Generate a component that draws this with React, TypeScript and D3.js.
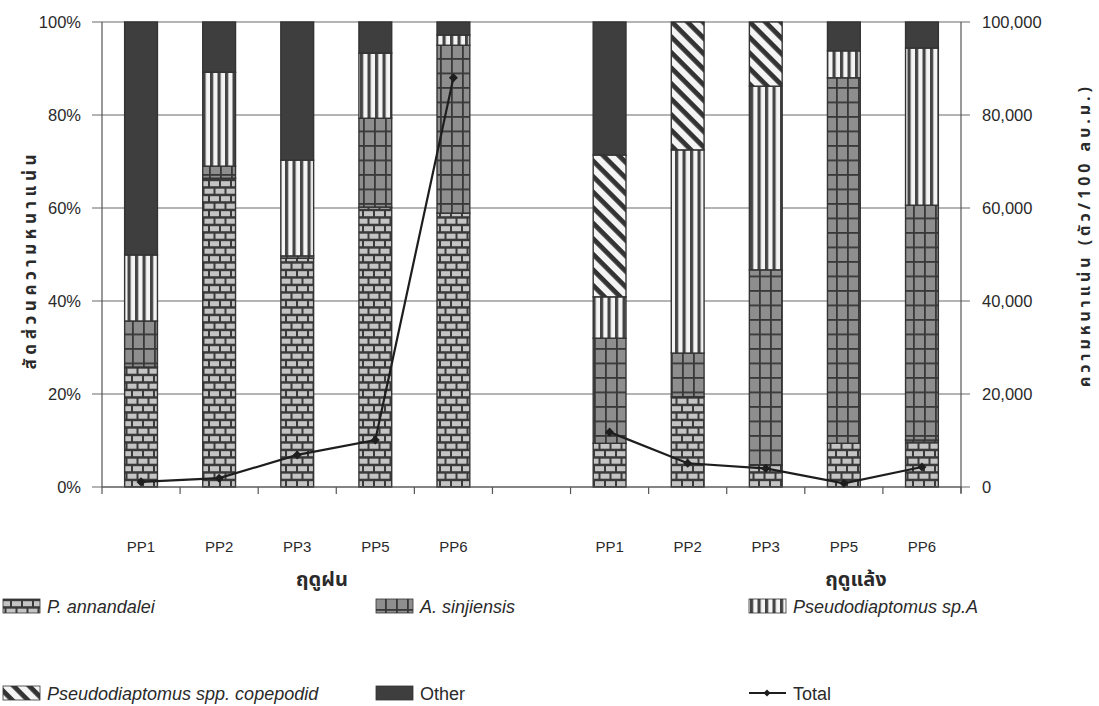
import React from "react";
import * as d3 from "d3";

// ---- data ----
const sites = ["PP1", "PP2", "PP3", "PP5", "PP6"];
const seasons = ["ฤดูฝน", "ฤดูแล้ง"];
const slotKeys = ["R-PP1", "R-PP2", "R-PP3", "R-PP5", "R-PP6", "gap", "D-PP1", "D-PP2", "D-PP3", "D-PP5", "D-PP6"];
const barKeys = ["R-PP1", "R-PP2", "R-PP3", "R-PP5", "R-PP6", "D-PP1", "D-PP2", "D-PP3", "D-PP5", "D-PP6"];

// percent composition, rainy PP1..PP6 then dry PP1..PP6
const pAnnandalei = [25.8, 66.4, 49.2, 60.2, 58.9, 9.4, 19.4, 4.7, 9.4, 10.1];
const aSinjiensis = [9.9, 2.6, 0.5, 19.1, 36.1, 22.6, 9.4, 42.0, 78.6, 50.5];
const pseudoSpA = [14.2, 20.2, 20.6, 14.0, 2.2, 8.9, 43.7, 39.5, 5.8, 33.8];
const copepodid = [0, 0, 0, 0, 0, 30.5, 27.5, 13.8, 0, 0];
const other = [50.1, 10.8, 29.7, 6.7, 2.8, 28.6, 0, 0, 6.2, 5.6];

// total density (ind./100 m3)
const totalRainy = [1100, 1900, 6900, 10100, 88000];
const totalDry = [11800, 5100, 4000, 800, 4300];

const leftTicks = [0, 20, 40, 60, 80, 100];
const rightTicks = [0, 20000, 40000, 60000, 80000, 100000];

const seriesNames = ["P. annandalei", "A. sinjiensis", "Pseudodiaptomus sp.A", "Pseudodiaptomus spp. copepodid", "Other"];
const seriesValues = [pAnnandalei, aSinjiensis, pseudoSpA, copepodid, other];
const seriesFill = ["url(#brick)", "url(#grid)", "url(#vstripe)", "url(#diag)", "#3e3e3e"];

const THAI = "'Noto Sans Thai', 'Noto Sans Thai UI', Loma, Garuda, Waree, 'Tlwg Typo', 'DejaVu Sans', sans-serif";
const ARIAL = "'Liberation Sans', Arial, sans-serif";

export default function App() {
  const W = 1099, H = 706;
  const left = 102, right = 961, top = 22, bottom = 487;

  const x = d3.scaleBand<string>().domain(slotKeys).range([left, right]).padding(0);
  const y = d3.scaleLinear().domain([0, 100]).range([bottom, top]);
  const y2 = d3.scaleLinear().domain([0, 100000]).range([bottom, top]);
  const barW = x.bandwidth() * 0.42;

  const stackData = barKeys.map((k, i) => {
    const o: any = { key: k };
    seriesNames.forEach((n, s) => (o[n] = seriesValues[s][i]));
    return o;
  });
  const stack = d3.stack<any>().keys(seriesNames)(stackData);

  const cx = (k: string) => (x(k) as number) + x.bandwidth() / 2;
  const line = d3.line<[number, number]>().x((d) => d[0]).y((d) => d[1]);
  const rainyPts: [number, number][] = totalRainy.map((v, i) => [cx("R-" + sites[i]), y2(v)]);
  const dryPts: [number, number][] = totalDry.map((v, i) => [cx("D-" + sites[i]), y2(v)]);

  const txt = "#2a2a2a";
  const tickEdges = [...slotKeys.map((k) => x(k) as number), right];

  const legendRows = [
    { x: 3, y: 606, s: 0 },
    { x: 376, y: 606, s: 1 },
    { x: 749, y: 606, s: 2 },
    { x: 3, y: 693, s: 3 },
    { x: 376, y: 693, s: 4 },
  ];

  return (
    <svg width={W} height={H} style={{ position: "absolute", left: 0, top: 0, background: "#fff" }}>
      <defs>
        <pattern id="brick" patternUnits="userSpaceOnUse" width="22" height="15">
          <rect width="22" height="15" fill="#3a3a3a" />
          <rect x="1" y="1.2" width="9" height="5" fill="#c4c4c4" />
          <rect x="12" y="1.2" width="9" height="5" fill="#c4c4c4" />
          <rect x="-4.5" y="8.7" width="9" height="5" fill="#c4c4c4" />
          <rect x="6.5" y="8.7" width="9" height="5" fill="#c4c4c4" />
          <rect x="17.5" y="8.7" width="9" height="5" fill="#c4c4c4" />
        </pattern>
        <pattern id="grid" patternUnits="userSpaceOnUse" width="11" height="14.5" x={0} y={0}>
          <rect width="11" height="14.5" fill="#8e8e8e" />
          <rect x="0" y="0" width="1.8" height="14.5" fill="#383838" />
          <rect x="0" y="0" width="11" height="1.8" fill="#383838" />
        </pattern>
        <pattern id="vstripe" patternUnits="userSpaceOnUse" width="7.5" height="10">
          <rect width="7.5" height="10" fill="#f4f4f4" />
          <rect x="0" y="0" width="3.2" height="10" fill="#444" />
        </pattern>
        <pattern id="diag" patternUnits="userSpaceOnUse" width="11" height="11" patternTransform="rotate(45)">
          <rect width="11" height="11" fill="#f4f4f4" />
          <rect x="0" y="0" width="11" height="4.8" fill="#333" />
        </pattern>
      </defs>

      {/* gridlines */}
      {leftTicks.map((t) => (
        <line key={"g" + t} x1={left - 10} x2={right + 9} y1={y(t)} y2={y(t)} stroke="#6a6a6a" strokeWidth={1.2} />
      ))}

      {/* bars */}
      {stack.map((layer, s) => (
        <g key={layer.key}>
          {layer.map((d, i) => {
            const h = y(d[0]) - y(d[1]);
            if (h <= 0.01) return null;
            return (
              <rect
                key={i}
                x={cx(barKeys[i]) - barW / 2}
                y={y(d[1])}
                width={barW}
                height={h}
                fill={seriesFill[s]}
                stroke="#333"
                strokeWidth={1.4}
              />
            );
          })}
        </g>
      ))}

      {/* axes */}
      <line x1={left} x2={left} y1={top} y2={bottom} stroke="#555" strokeWidth={1.2} />
      <line x1={right} x2={right} y1={top} y2={bottom + 6} stroke="#555" strokeWidth={1.2} />
      <line x1={left} x2={right} y1={bottom} y2={bottom} stroke="#555" strokeWidth={1.2} />
      {tickEdges.map((tx, i) => (
        <line key={"xt" + i} x1={tx} x2={tx} y1={bottom} y2={bottom + 7} stroke="#555" strokeWidth={1.2} />
      ))}

      {leftTicks.map((t) => (
        <text key={"lt" + t} x={81} y={y(t) + 6} textAnchor="end" fontFamily={ARIAL} fontSize={16.5} fill={txt}>
          {t + "%"}
        </text>
      ))}
      {rightTicks.map((t) => (
        <text key={"rt" + t} x={982} y={y2(t) + 6} textAnchor="start" fontFamily={ARIAL} fontSize={16.5} fill={txt}>
          {d3.format(",")(t)}
        </text>
      ))}

      {barKeys.map((k, i) => (
        <text key={"xl" + k} x={cx(k)} y={552} textAnchor="middle" fontFamily={ARIAL} fontSize={15} fill={txt}>
          {sites[i % 5]}
        </text>
      ))}

      {/* axis titles */}
      <text
        transform={`translate(36,262) rotate(-90)`}
        textAnchor="middle"
        fontFamily={THAI}
        fontWeight="bold"
        fontSize={17}
        textLength={215}
        lengthAdjust="spacing"
        fill={txt}
      >
        สัดส่วนความหนาแน่น
      </text>
      <text
        transform={`translate(1090,237) rotate(-90)`}
        textAnchor="middle"
        fontFamily={THAI}
        fontWeight="bold"
        fontSize={16}
        textLength={300}
        lengthAdjust="spacing"
        fill={txt}
      >
        ความหนาแน่น (ตัว/100 ลบ.ม.)
      </text>

      {/* total lines */}
      {[rainyPts, dryPts].map((pts, j) => (
        <g key={"ln" + j}>
          <path d={line(pts) || ""} fill="none" stroke="#1e1e1e" strokeWidth={2.2} />
          {pts.map((p, i) => (
            <rect key={i} x={p[0] - 3.2} y={p[1] - 3.2} width={6.4} height={6.4} fill="#1e1e1e" transform={`rotate(45 ${p[0]} ${p[1]})`} />
          ))}
        </g>
      ))}

      {/* season labels */}
      <text x={322} y={586} textAnchor="middle" fontFamily={THAI} fontWeight="bold" fontSize={20} fill={txt}>
        {seasons[0]}
      </text>
      <text x={856} y={586} textAnchor="middle" fontFamily={THAI} fontWeight="bold" fontSize={20} fill={txt}>
        {seasons[1]}
      </text>

      {/* legend */}
      {legendRows.map((r) => (
        <g key={"lg" + r.s}>
          <rect x={r.x} y={r.y - 7} width={37} height={14} fill={seriesFill[r.s]} stroke="#333" strokeWidth={0.8} />
          <text
            x={r.x + 44}
            y={r.y + 7}
            fontFamily={ARIAL}
            fontStyle={r.s === 4 ? "normal" : "italic"}
            fontSize={18}
            fill={txt}
          >
            {seriesNames[r.s]}
          </text>
        </g>
      ))}
      <g>
        <line x1={749} x2={786} y1={693} y2={693} stroke="#1e1e1e" strokeWidth={2} />
        <rect x={764.5} y={690.5} width={5} height={5} fill="#1e1e1e" transform="rotate(45 767 693)" />
        <text x={793} y={700} fontFamily={ARIAL} fontSize={18} fill={txt}>
          Total
        </text>
      </g>
    </svg>
  );
}
